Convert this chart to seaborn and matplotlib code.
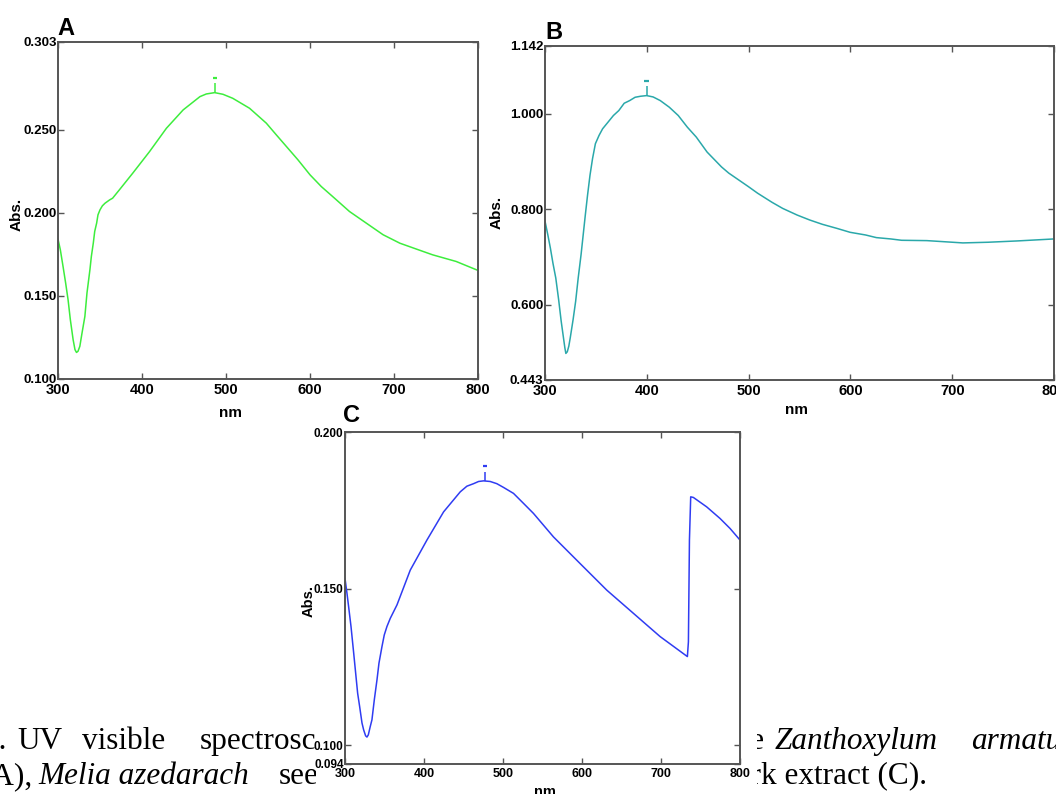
import matplotlib
matplotlib.use("Agg")
import matplotlib.pyplot as plt
import seaborn as sns
import pandas as pd
from matplotlib.patches import Rectangle

# ---------------- data ----------------
a_nm = [300, 302.8, 306, 309.1, 312, 314.7, 318, 320.2, 322, 323.8, 326, 328.6, 332, 334.5,
        338, 339.7, 342, 343.7, 346, 347.6, 350, 352.8, 356, 361.5, 365, 373, 389, 409, 429,
        449, 469, 476.6, 486.5, 496.4, 508, 528, 548, 560, 572, 585.7, 600, 613.5, 627, 647,
        667, 687, 707, 727, 746, 774, 800]
a_abs = [0.1843, 0.1778, 0.1678, 0.1578, 0.1477, 0.1357, 0.1237, 0.1177, 0.1160, 0.1167,
         0.1197, 0.1277, 0.1377, 0.1518, 0.1658, 0.1738, 0.1818, 0.1889, 0.1939, 0.1989,
         0.2019, 0.2043, 0.2059, 0.2079, 0.2089, 0.2139, 0.2240, 0.2370, 0.2510, 0.2621,
         0.2701, 0.2717, 0.2725, 0.2715, 0.2691, 0.2631, 0.2541, 0.2470, 0.2400, 0.2320,
         0.2230, 0.2159, 0.2099, 0.2009, 0.1939, 0.1869, 0.1818, 0.1782, 0.1748, 0.1708,
         0.1654]
a_peak = [487, 0.2725, 0.2781, 0.2815]   # nm, curve top, marker stem top, marker dash

b_nm = [300, 302.8, 305.3, 307.8, 310.6, 313.4, 315.9, 317.7, 319.5, 320.5, 321.9, 323.4,
        324.8, 327.6, 330.1, 332.6, 335.4, 337.5, 339.6, 341.8, 344.2, 346.7, 349.5, 353.1,
        356.6, 361.9, 367.2, 372.5, 377.8, 383.2, 388.5, 393.8, 399.8, 406.2, 413.2, 422.1,
        430.9, 439.8, 448.6, 459.2, 473.4, 480.5, 499.6, 508.8, 522.9, 533.5, 547.7, 560.1,
        572.5, 586.6, 599.7, 614.9, 625.5, 639.7, 650.3, 675.1, 700.2, 710.5, 735.2, 763.6,
        800]
b_abs = [0.7757, 0.7465, 0.7188, 0.6875, 0.6563, 0.6111, 0.5660, 0.5382, 0.5104, 0.4986,
         0.5021, 0.5139, 0.5313, 0.5694, 0.6076, 0.6563, 0.7049, 0.7465, 0.7882, 0.8299,
         0.8715, 0.9063, 0.9375, 0.9549, 0.9688, 0.9826, 0.9965, 1.0069, 1.0222, 1.0278,
         1.0347, 1.0368, 1.0382, 1.0354, 1.0278, 1.0139, 0.9965, 0.9722, 0.9514, 0.9201,
         0.8889, 0.8760, 0.8480, 0.8340, 0.8150, 0.8021, 0.7882, 0.7778, 0.7688, 0.7604,
         0.7521, 0.7465, 0.7410, 0.7382, 0.7354, 0.7347, 0.7313, 0.7299, 0.7313, 0.7340,
         0.7382]
b_peak = [400, 1.0382, 1.0576, 1.0688]

c_nm = [300, 302.5, 304.6, 307.6, 311.0, 313.5, 316.0, 318.5, 321.5, 323.6, 326.1, 327.8,
        329.5, 332.0, 334.1, 337.1, 340.5, 343.0, 346.8, 349.7, 353.1, 357.3, 365.8, 382.6,
        403.7, 424.8, 445.9, 454.3, 462.7, 469.1, 475.4, 483.8, 492.2, 500.7, 513.3, 526.0,
        538.6, 563.9, 597.6, 631.4, 665.1, 698.8, 733.4, 734.7, 736.0, 737.6, 741.0, 757.8,
        774.7, 787.4, 800]
c_abs = [0.1533, 0.1485, 0.1442, 0.1379, 0.1294, 0.1230, 0.1166, 0.1124, 0.1071, 0.1049,
         0.1030, 0.1026, 0.1033, 0.1060, 0.1081, 0.1145, 0.1209, 0.1262, 0.1315, 0.1352,
         0.1379, 0.1405, 0.1448, 0.1559, 0.1655, 0.1745, 0.1809, 0.1827, 0.1835, 0.1842,
         0.1844, 0.1842, 0.1835, 0.1823, 0.1804, 0.1772, 0.1740, 0.1665, 0.1580, 0.1495,
         0.1421, 0.1347, 0.1283, 0.1330, 0.1655, 0.1793, 0.1791, 0.1761, 0.1724, 0.1692,
         0.1655]
c_peak = [477, 0.1844, 0.1873, 0.1890]

x_ticks = [300, 400, 500, 600, 700, 800]
a_yticks = [0.100, 0.150, 0.200, 0.250, 0.303]
b_yticks = [0.443, 0.600, 0.800, 1.000, 1.142]
c_yticks = [0.094, 0.100, 0.150, 0.200]

panel_letters = ["A", "B", "C"]
y_label = "Abs."
x_label = "nm"

# ---------------- style ----------------
sns.set_style("ticks")
plt.rcParams["font.family"] = ["Liberation Sans", "DejaVu Sans"]
plt.rcParams["font.weight"] = "bold"

W, H = 1056, 794
fig = plt.figure(figsize=(W / 100, H / 100), dpi=100)
fig.patch.set_facecolor("white")


def fx(px):
    return px / W


def fy(py):
    return 1 - py / H


def make_ax(l, t, r, b):
    return fig.add_axes([l / W, 1 - b / H, (r - l) / W, (b - t) / H])


SPINE = "#555555"


def style_ax(ax, xlim, ylim, yticks, xsize, ysize):
    ax.set_xlim(*xlim)
    ax.set_ylim(*ylim)
    ax.set_xticks(x_ticks)
    ax.set_xticklabels([str(v) for v in x_ticks])
    ax.set_yticks(yticks)
    ax.set_yticklabels([f"{v:.3f}" for v in yticks])
    for s in ax.spines.values():
        s.set_visible(True)
        s.set_color(SPINE)
        s.set_linewidth(1.4)
    ax.tick_params(axis="both", which="both", direction="in", length=4, width=1,
                   top=True, right=True, color=SPINE, labelcolor="black")
    ax.tick_params(axis="x", labelsize=xsize, pad=3)
    ax.tick_params(axis="y", labelsize=ysize, pad=1)
    for lbl in ax.get_xticklabels() + ax.get_yticklabels():
        lbl.set_fontweight("bold")
    ax.set_xlabel("")
    ax.set_ylabel("")
    ax.set_facecolor("white")


def draw_panel(ax, nm, ab, peak, color):
    df = pd.DataFrame({"nm": nm, "abs": ab})
    sns.lineplot(data=df, x="nm", y="abs", ax=ax, color=color, linewidth=1.1,
                 estimator=None, sort=False, legend=False)
    px, ptop, pstem, pdash = peak
    ax.vlines(px, ptop, pstem, color=color, linewidth=1.1)
    ax.hlines(pdash, px - 2.5, px + 2.5, color=color, linewidth=1.6)


# ---------------- caption (partly hidden behind panel C) ----------------
cap = dict(fontsize=22.5, family="Liberation Serif", fontweight="normal", color="black",
           va="baseline", ha="left", zorder=-1)
capi = dict(cap, style="italic")
L1, L2 = 749, 784
fig.text(fx(-17), fy(L1), "1.", **cap)
fig.text(fx(17), fy(L1), "UV", **cap)
fig.text(fx(82), fy(L1), "visible", **cap)
fig.text(fx(200), fy(L1), "spectroscopy", **cap)
fig.text(fx(727), fy(L1), "the", **cap)
fig.text(fx(775), fy(L1), "Zanthoxylum", **capi)
fig.text(fx(971), fy(L1), "armatum", **capi)

fig.text(fx(-18), fy(L2), "(A),", **cap)
fig.text(fx(38), fy(L2), "Melia azedarach", **capi)
fig.text(fx(279), fy(L2), "seed", **cap)
fig.text(fx(721), fy(L2), "bark extract (C).", **cap)

# white backing of panel C image
fig.patches.append(Rectangle((fx(316), 0), fx(757) - fx(316), fy(396), transform=fig.transFigure,
                             facecolor="white", edgecolor="none", zorder=-0.5))

# ---------------- panel A ----------------
axA = make_ax(58, 42, 478, 379)
draw_panel(axA, a_nm, a_abs, a_peak, "#3ded3d")
style_ax(axA, (300, 800), (0.100, 0.303), a_yticks, 10.5, 9.5)

# ---------------- panel B ----------------
axB = make_ax(545, 46, 1054, 380)
draw_panel(axB, b_nm, b_abs, b_peak, "#2aa8aa")
style_ax(axB, (300, 800), (0.443, 1.142), b_yticks, 10.5, 9.5)

# ---------------- panel C ----------------
axC = make_ax(345, 432, 740, 764)
draw_panel(axC, c_nm, c_abs, c_peak, "#2f3cf2")
style_ax(axC, (300, 800), (0.094, 0.200), c_yticks, 9, 8.5)

# ---------------- axis labels & panel letters ----------------
lab = dict(family=["Liberation Sans", "DejaVu Sans"], fontweight="bold", color="black")
fig.text(fx(17), fy(214), y_label, rotation=90, ha="center", va="center", fontsize=11, **lab)
fig.text(fx(497), fy(212), y_label, rotation=90, ha="center", va="center", fontsize=11, **lab)
fig.text(fx(309), fy(601), y_label, rotation=90, ha="center", va="center", fontsize=10.5, **lab)

fig.text(fx(230), fy(413), x_label, ha="center", va="center", fontsize=11, **lab)
fig.text(fx(797), fy(410), x_label, ha="center", va="center", fontsize=11, **lab)
fig.text(fx(545), fy(792), x_label, ha="center", va="center", fontsize=10.5, **lab)

fig.text(fx(57), fy(35), panel_letters[0], ha="left", va="baseline", fontsize=17, **lab)
fig.text(fx(545), fy(39), panel_letters[1], ha="left", va="baseline", fontsize=17, **lab)
fig.text(fx(343), fy(422), panel_letters[2], ha="left", va="baseline", fontsize=17, **lab)

fig.savefig("out.png", dpi=100, facecolor="white")
